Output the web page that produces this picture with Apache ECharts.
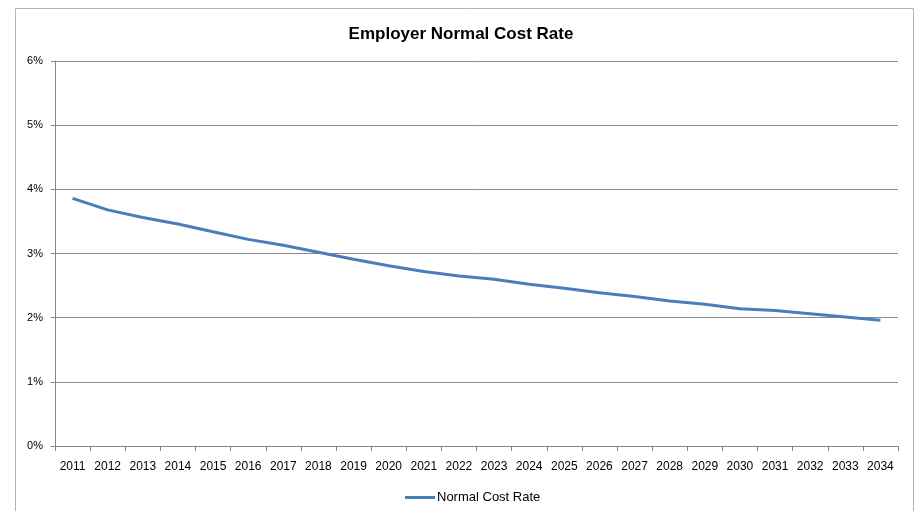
<!DOCTYPE html>
<html>
<head>
<meta charset="utf-8">
<title>Employer Normal Cost Rate</title>
<script src="https://cdn.jsdelivr.net/npm/echarts@6/dist/echarts.min.js"></script>
<style>
  html, body { margin: 0; padding: 0; background: #ffffff; }
  #chart { width: 922px; height: 511px; }
</style>
</head>
<body>
<div id="chart"></div>
<script>
// Projection years
const years = ['2011', '2012', '2013', '2014', '2015', '2016', '2017', '2018',
  '2019', '2020', '2021', '2022', '2023', '2024', '2025', '2026', '2027', '2028',
  '2029', '2030', '2031', '2032', '2033', '2034'];

// Employer normal cost as a percent of payroll
const normalCostRate = [3.86, 3.68, 3.56, 3.46, 3.34, 3.22, 3.13, 3.02, 2.91,
  2.81, 2.72, 2.65, 2.60, 2.52, 2.46, 2.39, 2.33, 2.26, 2.21, 2.14, 2.11, 2.06,
  2.01, 1.96];

// Value axis range (percent)
const yMin = 0, yMax = 6, yStep = 1;

const FONT = '"Liberation Sans", Arial, sans-serif';
const chart = echarts.init(document.getElementById('chart'), null, { renderer: 'canvas' });

chart.setOption({
  backgroundColor: '#ffffff',
  animation: false,
  title: {
    text: 'Employer Normal Cost Rate',
    left: 'center',
    top: 21,
    textStyle: { fontFamily: FONT, fontSize: 17, fontWeight: 'bold', color: '#000000' }
  },
  graphic: [{
    type: 'rect',
    shape: { x: 15.5, y: 8.5, width: 898, height: 520 },
    style: { fill: 'none', stroke: '#b3b3b3', lineWidth: 1 },
    silent: true
  }],
  legend: {
    top: 486,
    left: 400,
    icon: 'rect',
    itemWidth: 30,
    itemHeight: 3,
    itemGap: 10,
    textStyle: { fontFamily: FONT, fontSize: 13, color: '#000000', padding: [0, 0, 0, -3] },
    data: ['Normal Cost Rate']
  },
  grid: { left: 55, right: 24, top: 61, bottom: 65, containLabel: false },
  xAxis: {
    type: 'category',
    data: years,
    boundaryGap: true,
    axisLine: { lineStyle: { color: '#868686', width: 1 } },
    axisTick: { show: true, length: 5, lineStyle: { color: '#868686' } },
    axisLabel: { fontFamily: FONT, fontSize: 12, color: '#000000', margin: 15, interval: 0 }
  },
  yAxis: {
    type: 'value',
    min: yMin,
    max: yMax,
    interval: yStep,
    axisLine: { show: true, lineStyle: { color: '#868686', width: 1 } },
    axisTick: { show: true, length: 4, lineStyle: { color: '#868686' } },
    axisLabel: {
      fontFamily: FONT, fontSize: 11, color: '#000000', margin: 12,
      formatter: v => v + '%'
    },
    splitLine: { show: true, lineStyle: { color: '#8c8c8c', width: 1 } }
  },
  series: [{
    name: 'Normal Cost Rate',
    type: 'line',
    data: normalCostRate,
    showSymbol: false,
    symbol: 'none',
    smooth: false,
    lineStyle: { color: '#4a7ebb', width: 3 },
    itemStyle: { color: '#4a7ebb' }
  }]
});
</script>
</body>
</html>
